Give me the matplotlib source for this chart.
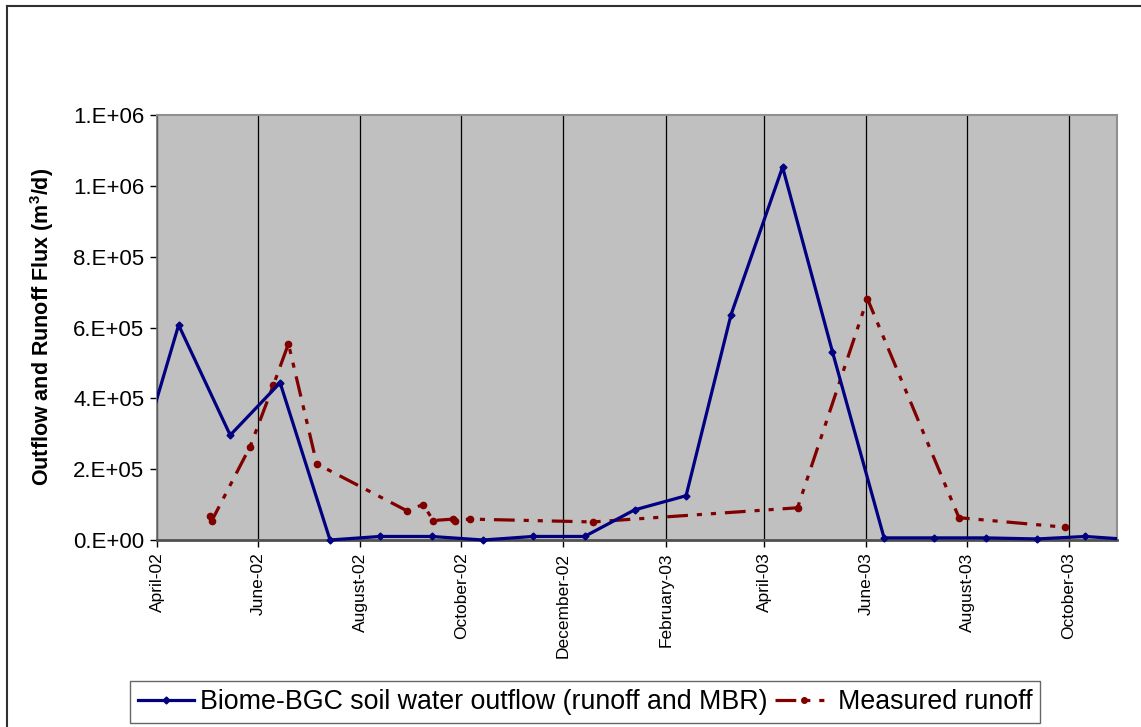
import matplotlib
matplotlib.use("Agg")
import matplotlib.pyplot as plt
from matplotlib.patches import Rectangle
from matplotlib.lines import Line2D
from datetime import datetime

plt.rcParams['font.family'] = ['Liberation Sans', 'DejaVu Sans']
plt.rcParams['mathtext.fontset'] = 'custom'
plt.rcParams['mathtext.rm'] = 'Liberation Sans'
plt.rcParams['mathtext.bf'] = 'Liberation Sans:bold'

# ---- data ----
model_dates = ["2002-03-14", "2002-04-14", "2002-05-15", "2002-06-14", "2002-07-14",
               "2002-08-13", "2002-09-13", "2002-10-14", "2002-11-13", "2002-12-14",
               "2003-01-13", "2003-02-13", "2003-03-12", "2003-04-12", "2003-05-12",
               "2003-06-12", "2003-07-12", "2003-08-12", "2003-09-12", "2003-10-11",
               "2003-11-11"]
model_flux = [113000, 607000, 296000, 444000, 0,
              10000, 10000, 0, 10000, 10000,
              85000, 125000, 636000, 1053000, 531000,
              6000, 6000, 6000, 3000, 10000,
              0]

meas_dates = ["2002-05-03", "2002-05-04", "2002-05-27", "2002-06-10", "2002-06-19",
              "2002-07-06", "2002-08-29", "2002-09-08", "2002-09-14", "2002-09-26",
              "2002-09-27", "2002-10-06", "2002-12-19", "2003-04-21", "2003-06-02",
              "2003-07-27", "2003-09-29"]
meas_flux = [68000, 55000, 264000, 438000, 554000,
             215000, 83000, 100000, 55000, 59000,
             55000, 59000, 51000, 91000, 681000,
             63000, 36000]

tick_dates = ["2002-04-01", "2002-06-01", "2002-08-01", "2002-10-01", "2002-12-01",
              "2003-02-01", "2003-04-01", "2003-06-01", "2003-08-01", "2003-10-01"]
tick_labels = ["April-02", "June-02", "August-02", "October-02", "December-02",
               "February-03", "April-03", "June-03", "August-03", "October-03"]
y_ticks = [0, 200000, 400000, 600000, 800000, 1000000, 1200000]
y_tick_labels = ["0.E+00", "2.E+05", "4.E+05", "6.E+05", "8.E+05", "1.E+06", "1.E+06"]
x_start, x_end = "2002-04-01", "2003-10-30"

series_names = ["Biome-BGC soil water outflow (runoff and MBR)", "Measured runoff"]
ylabel = r"Outflow and Runoff Flux (m$^\mathbf{3}$/d)"

to_dt = lambda s: datetime.strptime(s, "%Y-%m-%d")

fig = plt.figure(figsize=(11.41, 7.27), dpi=100)
W, H = 1141, 727
ax = fig.add_axes([157 / W, 1 - 540 / H, (1117 - 157) / W, (540 - 115) / H])
ax.set_facecolor('#C0C0C0')

blue = '#000080'
red = '#800000'
red_ls = (0, (6.5, 2.8, 1.6, 2.8, 1.6, 2.8))

clip = Rectangle((0, -0.02), 1, 1.04, transform=ax.transAxes, facecolor='none')

l1, = ax.plot([to_dt(d) for d in model_dates], model_flux, color=blue, lw=2.3,
              marker='D', markersize=3.5, markerfacecolor=blue, markeredgecolor=blue,
              zorder=4)
l2, = ax.plot([to_dt(d) for d in meas_dates], meas_flux, color=red, lw=2.3,
              linestyle=red_ls,
              marker='o', markersize=4.5, markerfacecolor=red, markeredgecolor=red,
              zorder=3)
for ln in (l1, l2):
    ln.set_clip_path(clip)

ax.set_xlim(to_dt(x_start), to_dt(x_end))
ax.set_ylim(0, 1200000)

tds = [to_dt(d) for d in tick_dates]
ax.set_xticks(tds)
ax.set_xticklabels(tick_labels, rotation=90, fontsize=12.5, va='top', ha='center')
for t in tds:
    ax.axvline(t, color='black', lw=0.9, zorder=1)

ax.set_yticks(y_ticks)
ax.set_yticklabels(y_tick_labels, fontsize=16)
ax.tick_params(axis='y', direction='out', length=5, width=1, color='black', pad=4)
ax.tick_params(axis='x', direction='out', length=5, width=1, color='black', pad=4)

for s in ['top', 'right']:
    ax.spines[s].set_color('#909090')
    ax.spines[s].set_linewidth(1.5)
ax.spines['left'].set_color('#707070')
ax.spines['left'].set_linewidth(1.2)
ax.spines['bottom'].set_color('#505050')
ax.spines['bottom'].set_linewidth(2)

fig.text(42 / W, 1 - 327 / H, ylabel, rotation=90, fontsize=15.5, fontweight='bold',
         ha='center', va='center')

# chart-area border (extends beyond right and bottom)
fig.add_artist(Line2D([7 / W, 7 / W], [1 - 6 / H, 0], transform=fig.transFigure,
                      color='#303030', lw=1.5))
fig.add_artist(Line2D([7 / W, 1], [1 - 6 / H, 1 - 6 / H], transform=fig.transFigure,
                      color='#303030', lw=1.5))

h1 = Line2D([], [], color=blue, lw=2.3, marker='D', markersize=3.5)
h2 = Line2D([], [], color=red, lw=2.3, linestyle=red_ls, marker='o', markersize=4)
leg = fig.legend([h1, h2], series_names, loc='center', bbox_to_anchor=(585 / W, 1 - 702 / H),
                 ncol=2, fontsize=19.3, frameon=True, fancybox=False, edgecolor='#404040',
                 handlelength=2.1, handletextpad=0.22, columnspacing=0.3, borderpad=0.28,
                 borderaxespad=0)
leg.get_frame().set_linewidth(1)

fig.savefig("out.png", dpi=100)
